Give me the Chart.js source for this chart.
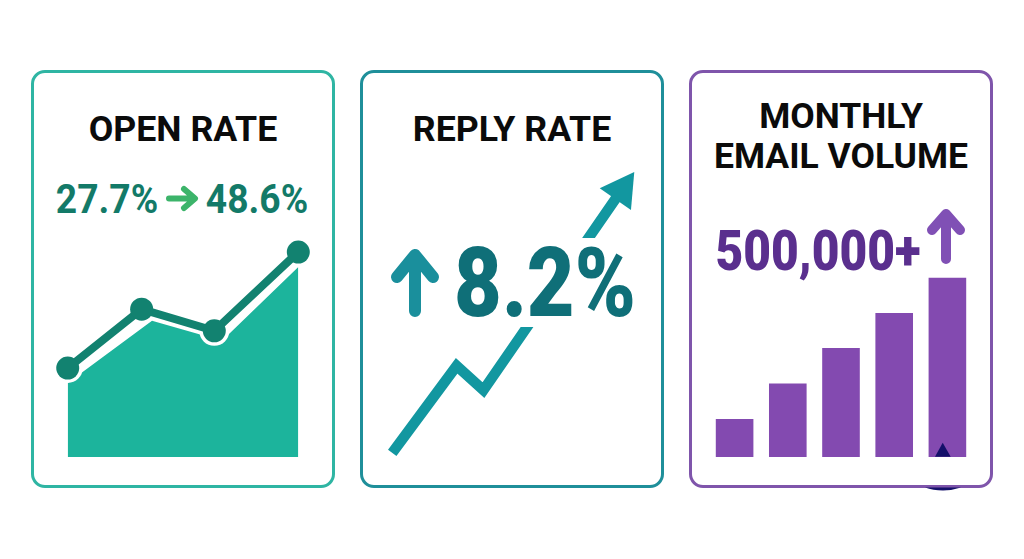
<!DOCTYPE html>
<html><head><meta charset="utf-8">
<script src="https://cdn.jsdelivr.net/npm/chart.js@4"></script>
<style>
html,body{margin:0;padding:0;background:#fff;width:1024px;height:559px;overflow:hidden;font-family:Roboto,sans-serif}
.card{position:absolute;top:70px;height:418px;box-sizing:border-box;border:3px solid;border-radius:14px;width:304px;background:#fff}
canvas{position:absolute;display:block}
.t{position:absolute;white-space:nowrap;font-weight:700;line-height:1;transform-origin:center}
svg{position:absolute;overflow:visible}
</style></head><body>
<div class="card" style="left:31px;border-color:#2fb5a3"></div>
<div class="card" style="left:360px;border-color:#1f8f9a"></div>
<div class="card" style="left:689px;border-color:#7f55ab"></div>
<canvas id="c1" width="280" height="240" style="left:40px;top:230px"></canvas>
<canvas id="c2" width="285" height="310" style="left:370px;top:160px"></canvas>
<canvas id="c3" width="266" height="190" style="left:708px;top:267px"></canvas>
<div style="position:absolute;left:515px;top:238px;width:90px;height:89px;background:#fff"></div>

<div class="t" style="left:183px;top:130px;font-size:35.7px;color:#0b0b0b;transform:translate(-50%,-50%)">OPEN RATE</div>
<div class="t" style="left:512px;top:130px;font-size:35.7px;color:#0b0b0b;transform:translate(-50%,-50%)">REPLY RATE</div>
<div class="t" style="left:841px;top:117px;font-size:35.5px;color:#0b0b0b;transform:translate(-50%,-50%)">MONTHLY</div>
<div class="t" style="left:841px;top:157px;font-size:35.5px;color:#0b0b0b;transform:translate(-50%,-50%)">EMAIL VOLUME</div>
<div class="t" style="left:107px;top:200px;font-size:40px;color:#137a68;transform:translate(-50%,-50%) scaleX(.93)">27.7%</div>
<div class="t" style="left:257px;top:200px;font-size:40px;color:#137a68;transform:translate(-50%,-50%) scaleX(.93)">48.6%</div>
<div class="t" style="left:545px;top:283px;font-size:97px;font-weight:900;color:#0f6f78;transform:translate(-50%,-50%) scaleX(.85)">8.2%</div>
<div class="t" style="left:818px;top:251px;font-size:56px;font-weight:900;color:#5a2f8e;transform:translate(-50%,-50%) scaleX(.855)">500,000+</div>

<svg style="left:0;top:0" width="1024" height="559">
  <g fill="none" stroke="#3cb46a" stroke-width="6" stroke-linecap="round" stroke-linejoin="round">
    <path d="M169 198.500H194M184 189L195 198.500L184 208"/>
  </g>
  <g fill="none" stroke="#1a8f9c" stroke-width="12" stroke-linecap="round" stroke-linejoin="round">
    <path d="M415 311V258M397 277L415 255L433 277"/>
  </g>
  <g fill="none" stroke="#8050b5" stroke-width="10" stroke-linecap="round" stroke-linejoin="round">
    <path d="M946 259V216M932 230L946 214L960 230"/>
  </g>
  <path d="M942.700 442.700L950.700 456.700H935Z" fill="#14106a"/>
  <path d="M925 487.500H961Q952 490.500 943 490.500Q933 490.500 925 487.500Z" fill="#14106a"/>
</svg>

<script>
// OPEN RATE panel: rate values
const openWeeks = [9.9, 36.3, 62.25, 92.25];
const openRate = [27.7, 38.3, 34.4, 48.6];
const openAreaWeeks = [9.9, 40, 65, 92.25];
const openAreaRate = [25.0, 36.2, 32.6, 45.9];
const openAreaBase = 11.66;
// REPLY RATE panel
const replySteps = [7.8, 30.4, 39.8, 88.3];
const replyRate = [0.5, 3.05, 2.34, 8.2];
// MONTHLY EMAIL VOLUME panel
const volumeMonths = ['M1', 'M2', 'M3', 'M4', 'M5'];
const volumeValues = [106000, 205000, 304000, 402000, 500000];

function zip(xs, ys){ return xs.map((x,i)=>({x, y:ys[i]})); }
const base = {
  responsive:false, animation:false, devicePixelRatio:1,
  layout:{padding:0, autoPadding:false},
  plugins:{legend:{display:false}, tooltip:{enabled:false}},
  events:[]
};
new Chart(document.getElementById('c1'), {
  type:'line',
  data:{datasets:[
    {data:zip(openWeeks,openRate), order:1, borderColor:'#128270', borderWidth:8, tension:0, clip:false,
     pointRadius:11.5, pointBackgroundColor:'#128270', pointBorderWidth:0},
    {data:zip(openWeeks,openRate), order:2, borderColor:'#ffffff', borderWidth:13, tension:0, clip:false,
     pointRadius:15, pointBackgroundColor:'#ffffff', pointBorderWidth:0},
    {data:zip(openAreaWeeks,openAreaRate), order:3, borderWidth:0, tension:0, pointRadius:0,
     backgroundColor:'#1cb49c', fill:{value:openAreaBase}}
  ]},
  options:{...base, scales:{
    x:{type:'linear',display:false,min:0,max:100},
    y:{display:false,min:9.32,max:52.57}
  }}
});
new Chart(document.getElementById('c2'), {
  type:'line',
  data:{datasets:[
    {data:zip(replySteps,replyRate), borderColor:'#1297a0', borderWidth:10.5, tension:0, clip:false,
     borderCapStyle:'butt', borderJoinStyle:'miter',
     pointStyle:'triangle', pointRotation:35, pointBorderWidth:0, pointBackgroundColor:'#1297a0',
     pointRadius:[0,0,0,22]}
  ]},
  options:{...base, scales:{
    x:{type:'linear',display:false,min:0,max:100},
    y:{display:false,min:0,max:9.08}
  }}
});
new Chart(document.getElementById('c3'), {
  type:'bar',
  data:{labels:volumeMonths, datasets:[
    {data:volumeValues, backgroundColor:'#834ab0', borderWidth:0, barPercentage:0.707, categoryPercentage:1}
  ]},
  options:{...base, scales:{
    x:{display:false},
    y:{display:false,min:0,max:530000}
  }}
});
</script>
</body></html>
